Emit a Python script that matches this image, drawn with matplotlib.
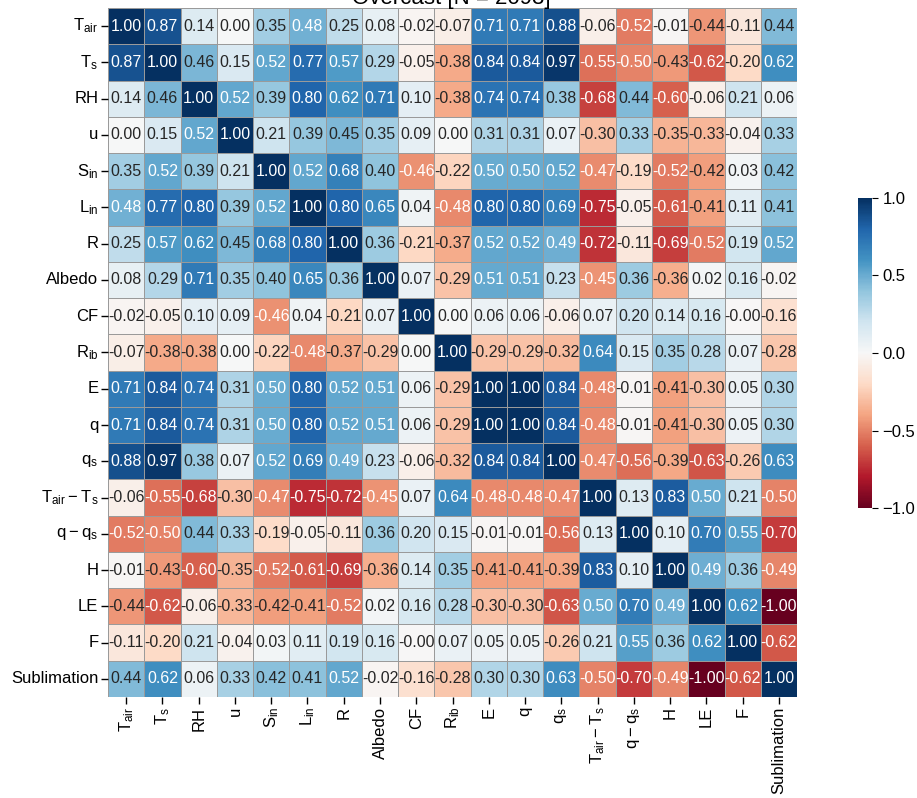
import matplotlib
matplotlib.use("Agg")
import matplotlib.pyplot as plt
import numpy as np
import seaborn as sns

plt.rcParams['font.family'] = ['Liberation Sans', 'DejaVu Sans']
plt.rcParams['mathtext.default'] = 'regular'

labels = [r'$T_{air}$', r'$T_{s}$', 'RH', 'u', r'$S_{in}$', r'$L_{in}$', 'R', 'Albedo', 'CF',
          r'$R_{ib}$', 'E', 'q', r'$q_{s}$', r'$T_{air} - T_{s}$', r'$q - q_{s}$', 'H', 'LE', 'F',
          'Sublimation']

r_tair = [1.00, 0.87, 0.14, 0.00, 0.35, 0.48, 0.25, 0.08, -0.02, -0.07, 0.71, 0.71, 0.88, -0.06, -0.52, -0.01, -0.44, -0.11, 0.44]
r_ts = [0.87, 1.00, 0.46, 0.15, 0.52, 0.77, 0.57, 0.29, -0.05, -0.38, 0.84, 0.84, 0.97, -0.55, -0.50, -0.43, -0.62, -0.20, 0.62]
r_rh = [0.14, 0.46, 1.00, 0.52, 0.39, 0.80, 0.62, 0.71, 0.10, -0.38, 0.74, 0.74, 0.38, -0.68, 0.44, -0.60, -0.06, 0.21, 0.06]
r_u = [0.00, 0.15, 0.52, 1.00, 0.21, 0.39, 0.45, 0.35, 0.09, 0.00, 0.31, 0.31, 0.07, -0.30, 0.33, -0.35, -0.33, -0.04, 0.33]
r_sin = [0.35, 0.52, 0.39, 0.21, 1.00, 0.52, 0.68, 0.40, -0.46, -0.22, 0.50, 0.50, 0.52, -0.47, -0.19, -0.52, -0.42, 0.03, 0.42]
r_lin = [0.48, 0.77, 0.80, 0.39, 0.52, 1.00, 0.80, 0.65, 0.04, -0.48, 0.80, 0.80, 0.69, -0.75, -0.05, -0.61, -0.41, 0.11, 0.41]
r_r = [0.25, 0.57, 0.62, 0.45, 0.68, 0.80, 1.00, 0.36, -0.21, -0.37, 0.52, 0.52, 0.49, -0.72, -0.11, -0.69, -0.52, 0.19, 0.52]
r_albedo = [0.08, 0.29, 0.71, 0.35, 0.40, 0.65, 0.36, 1.00, 0.07, -0.29, 0.51, 0.51, 0.23, -0.45, 0.36, -0.36, 0.02, 0.16, -0.02]
r_cf = [-0.02, -0.05, 0.10, 0.09, -0.46, 0.04, -0.21, 0.07, 1.00, 0.00, 0.06, 0.06, -0.06, 0.07, 0.20, 0.14, 0.16, -0.001, -0.16]
r_rib = [-0.07, -0.38, -0.38, 0.00, -0.22, -0.48, -0.37, -0.29, 0.00, 1.00, -0.29, -0.29, -0.32, 0.64, 0.15, 0.35, 0.28, 0.07, -0.28]
r_e = [0.71, 0.84, 0.74, 0.31, 0.50, 0.80, 0.52, 0.51, 0.06, -0.29, 1.00, 1.00, 0.84, -0.48, -0.01, -0.41, -0.30, 0.05, 0.30]
r_q = [0.71, 0.84, 0.74, 0.31, 0.50, 0.80, 0.52, 0.51, 0.06, -0.29, 1.00, 1.00, 0.84, -0.48, -0.01, -0.41, -0.30, 0.05, 0.30]
r_qs = [0.88, 0.97, 0.38, 0.07, 0.52, 0.69, 0.49, 0.23, -0.06, -0.32, 0.84, 0.84, 1.00, -0.47, -0.56, -0.39, -0.63, -0.26, 0.63]
r_dt = [-0.06, -0.55, -0.68, -0.30, -0.47, -0.75, -0.72, -0.45, 0.07, 0.64, -0.48, -0.48, -0.47, 1.00, 0.13, 0.83, 0.50, 0.21, -0.50]
r_dq = [-0.52, -0.50, 0.44, 0.33, -0.19, -0.05, -0.11, 0.36, 0.20, 0.15, -0.01, -0.01, -0.56, 0.13, 1.00, 0.10, 0.70, 0.55, -0.70]
r_h = [-0.01, -0.43, -0.60, -0.35, -0.52, -0.61, -0.69, -0.36, 0.14, 0.35, -0.41, -0.41, -0.39, 0.83, 0.10, 1.00, 0.49, 0.36, -0.49]
r_le = [-0.44, -0.62, -0.06, -0.33, -0.42, -0.41, -0.52, 0.02, 0.16, 0.28, -0.30, -0.30, -0.63, 0.50, 0.70, 0.49, 1.00, 0.62, -1.00]
r_f = [-0.11, -0.20, 0.21, -0.04, 0.03, 0.11, 0.19, 0.16, -0.001, 0.07, 0.05, 0.05, -0.26, 0.21, 0.55, 0.36, 0.62, 1.00, -0.62]
r_subl = [0.44, 0.62, 0.06, 0.33, 0.42, 0.41, 0.52, -0.02, -0.16, -0.28, 0.30, 0.30, 0.63, -0.50, -0.70, -0.49, -1.00, -0.62, 1.00]

matrix = np.array([r_tair, r_ts, r_rh, r_u, r_sin, r_lin, r_r, r_albedo, r_cf, r_rib,
                   r_e, r_q, r_qs, r_dt, r_dq, r_h, r_le, r_f, r_subl])

title = 'Overcast [N = 2093]'

fig = plt.figure(figsize=(9.17, 7.98), dpi=100)
ax = fig.add_axes([0.1178, 0.1266, 0.7514, 0.8634])
cax = fig.add_axes([0.9357, 0.3634, 0.0153, 0.3885])

sns.heatmap(matrix, ax=ax, cbar_ax=cax, cmap='RdBu', vmin=-1, vmax=1,
            annot=True, fmt='.2f', annot_kws={'fontsize': 11.5},
            linewidths=0.5, linecolor='#9a9a9a',
            xticklabels=labels, yticklabels=labels)

ax.tick_params(axis='both', labelsize=12, length=5, width=1, pad=2)
ax.set_xticklabels(labels, rotation=90)
ax.set_yticklabels(labels, rotation=0)

cax.tick_params(labelsize=12, length=4)
cax.set_yticks([-1.0, -0.5, 0.0, 0.5, 1.0])
cax.set_yticklabels(['\u22121.0', '\u22120.5', '0.0', '0.5', '1.0'])

fig.text(0.4925, 0.9945, title, ha='center', va='baseline', fontsize=16)

fig.savefig('out.png', dpi=100)
